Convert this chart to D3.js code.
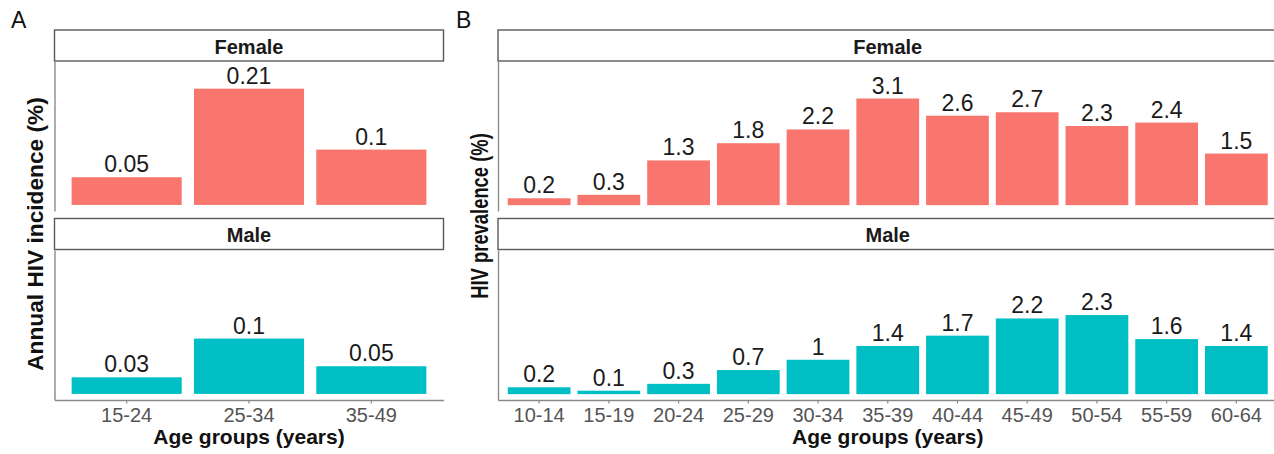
<!DOCTYPE html>
<html>
<head>
<meta charset="utf-8">
<script src="https://cdn.jsdelivr.net/npm/d3@7"></script>
<style>
  html, body { margin: 0; padding: 0; background: #ffffff; }
  svg { display: block; font-family: "Liberation Sans", Arial, Helvetica, sans-serif; }
</style>
</head>
<body>
<svg id="chart" width="1274" height="454"></svg>
<script>
// Annual HIV incidence by age group and sex
const incidenceAges = ["15-24", "25-34", "35-49"];
const incidenceFemale = [0.05, 0.21, 0.1];
const incidenceMale = [0.03, 0.1, 0.05];

// HIV prevalence by age group and sex
const prevalenceAges = ["10-14", "15-19", "20-24", "25-29", "30-34", "35-39",
                        "40-44", "45-49", "50-54", "55-59", "60-64"];
const prevalenceFemale = [0.2, 0.3, 1.3, 1.8, 2.2, 3.1, 2.6, 2.7, 2.3, 2.4, 1.5];
const prevalenceMale = [0.2, 0.1, 0.3, 0.7, 1, 1.4, 1.7, 2.2, 2.3, 1.6, 1.4];

const facetNames = ["Female", "Male"];
const fillColors = ["#F8766D", "#00BFC4"];

const svg = d3.select("#chart");
svg.append("rect").attr("width", 1274).attr("height", 454).attr("fill", "#ffffff");

// vertical layout shared by both figures: [strip top, strip bottom, panel top, panel bottom]
const rows = [
  { stripTop: 30, stripBottom: 61, panelTop: 61, panelBottom: 211 },
  { stripTop: 218.5, stripBottom: 249.5, panelTop: 250, panelBottom: 400 }
];

function drawFigure(opts) {
  const g = svg.append("g");
  const x = d3.scaleBand()
    .domain(opts.categories)
    .range([opts.left, opts.right])
    .paddingInner(0.1)
    .paddingOuter(0.14);

  // panel letter
  g.append("text")
    .attr("x", opts.letterX).attr("y", 28)
    .attr("font-size", 23).attr("fill", "#111")
    .text(opts.letter);

  opts.series.forEach((values, i) => {
    const row = rows[i];
    const y = d3.scaleLinear()
      .domain(opts.yDomain)
      .range([row.panelBottom, row.panelTop]);

    // facet strip
    g.append("rect")
      .attr("x", opts.left).attr("y", row.stripTop)
      .attr("width", opts.right - opts.left)
      .attr("height", row.stripBottom - row.stripTop)
      .attr("fill", "#ffffff").attr("stroke", "#5a5a5a").attr("stroke-width", 1.4);
    g.append("text")
      .attr("x", (opts.left + opts.right) / 2)
      .attr("y", (row.stripTop + row.stripBottom) / 2 + 8)
      .attr("text-anchor", "middle")
      .attr("font-size", 20).attr("font-weight", "bold").attr("fill", "#1a1a1a")
      .text(facetNames[i]);

    // bars
    const data = opts.categories.map((c, k) => ({ cat: c, v: values[k] }));
    g.append("g").selectAll("rect").data(data).join("rect")
      .attr("x", d => x(d.cat))
      .attr("width", x.bandwidth())
      .attr("y", d => y(d.v))
      .attr("height", d => y(0) - y(d.v))
      .attr("fill", fillColors[i]);

    // value labels
    g.append("g").selectAll("text").data(data).join("text")
      .attr("x", d => x(d.cat) + x.bandwidth() / 2)
      .attr("y", d => y(d.v) - 5)
      .attr("text-anchor", "middle")
      .attr("font-size", 23).attr("fill", "#1a1a1a")
      .text(d => String(d.v));

    // left axis line (no ticks)
    const yAxis = g.append("g")
      .attr("transform", `translate(${opts.left},0)`)
      .call(d3.axisLeft(y).tickValues([]).tickSizeOuter(0));
    yAxis.select(".domain").attr("stroke", "#8a8a8a").attr("stroke-width", 1.4);

    // bottom axis on the lower facet only
    if (i === opts.series.length - 1) {
      const xAxis = g.append("g")
        .attr("transform", `translate(0,${row.panelBottom})`)
        .call(d3.axisBottom(x).tickSize(3.5).tickSizeOuter(0).tickPadding(4.3));
      xAxis.select(".domain").attr("stroke", "#8a8a8a").attr("stroke-width", 1.4);
      xAxis.selectAll(".tick line").attr("stroke", "#8a8a8a").attr("stroke-width", 1.2);
      xAxis.selectAll(".tick text")
        .attr("font-size", 20).attr("fill", "#555555")
        .attr("font-family", "Liberation Sans, Arial, sans-serif");
    }
  });

  // axis titles
  g.append("text")
    .attr("x", (opts.left + opts.right) / 2).attr("y", 444)
    .attr("text-anchor", "middle")
    .attr("font-size", 21).attr("font-weight", "bold").attr("fill", "#111")
    .text("Age groups (years)");

  g.append("text")
    .attr("transform", `translate(${opts.yTitleX},${opts.yTitleY}) rotate(-90) scale(${opts.yTitleStretch},1)`)
    .attr("text-anchor", "middle")
    .attr("font-size", opts.yTitleSize).attr("font-weight", "bold").attr("fill", "#111")
    .text(opts.yTitle);
}

drawFigure({
  letter: "A", letterX: 11,
  categories: incidenceAges,
  series: [incidenceFemale, incidenceMale],
  left: 54.5, right: 443.5,
  yDomain: [-0.011, 0.26],
  yTitle: "Annual HIV incidence (%)",
  yTitleX: 43, yTitleY: 234, yTitleSize: 22.7, yTitleStretch: 1
});

drawFigure({
  letter: "B", letterX: 456,
  categories: prevalenceAges,
  series: [prevalenceFemale, prevalenceMale],
  left: 498, right: 1277.5,
  yDomain: [-0.17, 4.19],
  yTitle: "HIV prevalence (%)",
  yTitleX: 488, yTitleY: 216, yTitleSize: 23, yTitleStretch: 0.8
});
</script>
</body>
</html>
